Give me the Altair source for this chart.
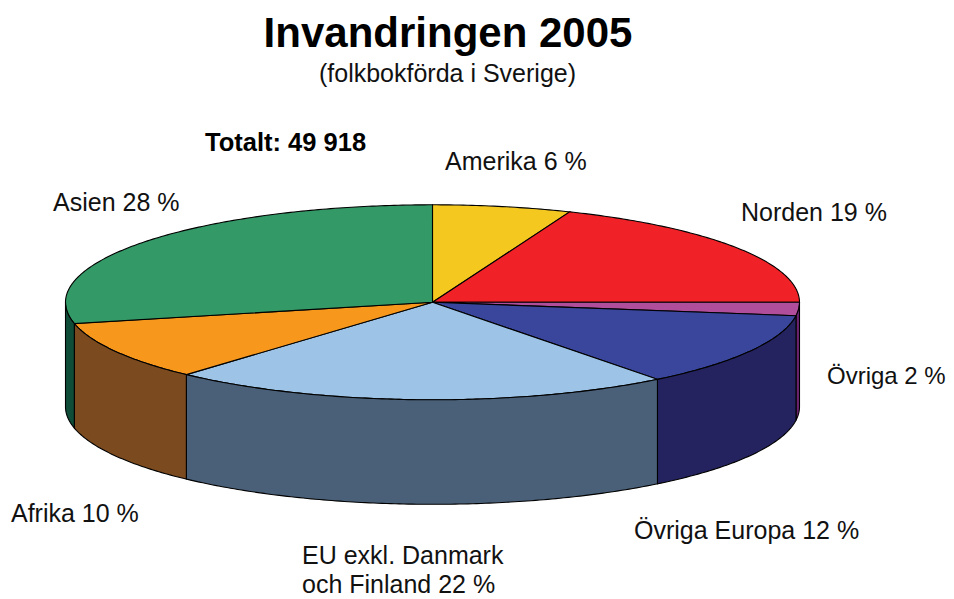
import math
import altair as alt
import pandas as pd

# Slice order clockwise from 12 o'clock, as drawn in the picture
slices = ["Amerika", "Norden", "Övriga", "Övriga Europa", "EU", "Afrika", "Asien"]
drawn_shares = [6.1, 18.9, 2.2, 12.3, 22.2, 9.8, 28.5]
top_colors = ["#F5C820", "#F12128", "#B04E9C", "#39469C", "#9DC3E6", "#F7981D", "#339966"]
side_colors = ["#7A6410", "#7A1014", "#6B2270", "#24235F", "#4A6079", "#7B4B1F", "#0F4D38"]

label_texts = ["Amerika 6 %", "Norden 19 %", "Övriga Europa 12 %",
               "EU exkl. Danmark", "och Finland 22 %", "Afrika 10 %", "Asien 28 %"]

# Layout (page pixels)
W, H = 938, 590
CX, CY, RX, RY, DEPTH = 432.5, 302.3, 367.0, 97.5, 104.5
label_x = [445, 741, 634, 302, 302, 11, 53]
label_y = [170, 221, 539, 564, 593, 522, 211]


def rim(deg):
    a = math.radians(deg)
    return CX + RX * math.sin(a), CY - RY * math.cos(a)


rows = []
start = 0.0
for name, share in zip(slices, drawn_shares):
    end = start + share * 3.6
    steps = max(4, int((end - start) * 1.5))
    arc = [start + (end - start) * i / steps for i in range(steps + 1)]
    # top face
    pts = [(CX, CY)] + [rim(d) for d in arc] + [(CX, CY)]
    for i, (x, y) in enumerate(pts):
        rows.append({"piece": name + " top", "i": i, "x": x, "y": y})
    # front wall: only the part of the rim facing the viewer
    lo, hi = max(start, 90.0), min(end, 270.0)
    if hi > lo:
        front = [lo + (hi - lo) * i / steps for i in range(steps + 1)]
        upper = [rim(d) for d in front]
        lower = [(x, y + DEPTH) for x, y in reversed(upper)]
        wall = upper + lower + [upper[0]]
        for i, (x, y) in enumerate(wall):
            rows.append({"piece": name + " side", "i": i, "x": x, "y": y})
    start = end

df = pd.DataFrame(rows)
domain = [s + " top" for s in slices] + [s + " side" for s in slices]
colors = top_colors + side_colors

xs = alt.Scale(domain=[8, 8 + W], range=[0, W])
ys = alt.Scale(domain=[8 + H, 8], range=[H, 0])
X = alt.X("x:Q", scale=xs, axis=None)
Y = alt.Y("y:Q", scale=ys, axis=None)

pie = alt.Chart(df).mark_line(filled=True, stroke="#000000", strokeWidth=1.1, interpolate="linear").encode(
    x=X, y=Y, order="i:Q",
    color=alt.Color("piece:N", scale=alt.Scale(domain=domain, range=colors), legend=None),
)


def texts(items, size, bold=False, color="#000000", align="left"):
    data = pd.DataFrame(items)
    return alt.Chart(data).mark_text(
        font="Liberation Sans", fontSize=size, fontWeight="bold" if bold else "normal",
        align=align, baseline="alphabetic", color=color,
    ).encode(x=X, y=Y, text="t:N")


labels = texts([{"t": t, "x": x, "y": y} for t, x, y in zip(label_texts, label_x, label_y)], 25, color="#111111")
edge_label = texts([{"t": "Övriga 2 %", "x": 827, "y": 384}], 24, color="#111111")
title = texts([{"t": "Invandringen 2005", "x": 448, "y": 47}], 42, bold=True, align="center")
sub = texts([{"t": "(folkbokförda i Sverige)", "x": 447.5, "y": 82}], 25, color="#111111", align="center")
total = texts([{"t": "Totalt: 49 918", "x": 205, "y": 151}], 25.5, bold=True)

chart = alt.layer(pie, labels, edge_label, title, sub, total).properties(
    width=W, height=H, padding=0,
    autosize=alt.AutoSizeParams(type="none"), background="#FFFFFF",
).configure_view(stroke=None)

chart.save("out.html", embed_options={"renderer": "svg", "actions": False})
